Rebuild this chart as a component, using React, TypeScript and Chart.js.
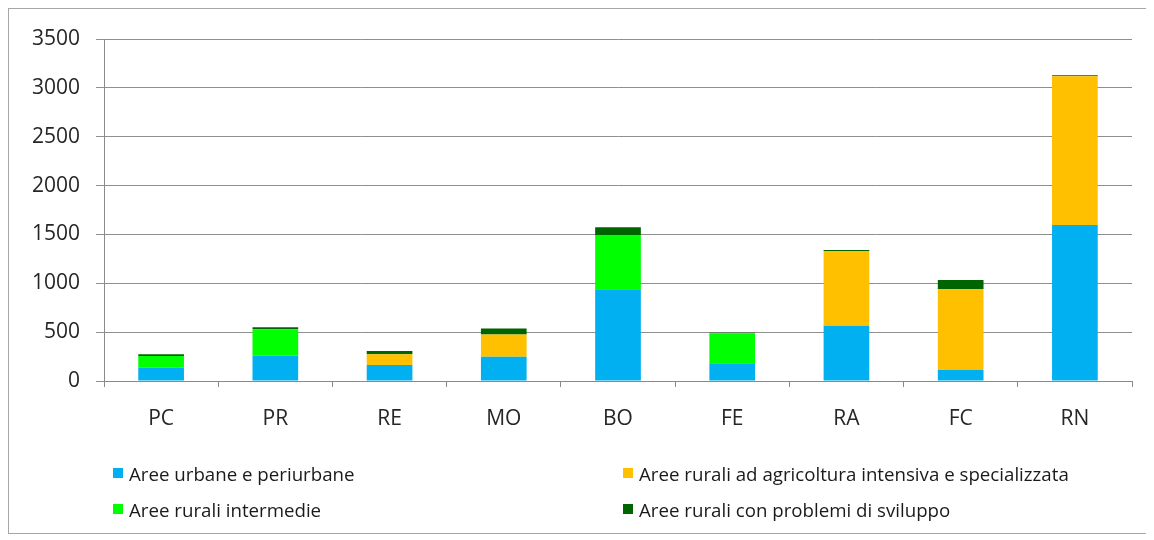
import React, { useEffect, useRef } from "react";
import { Chart, registerables } from "chart.js";

Chart.register(...registerables);

const categories = ["PC", "PR", "RE", "MO", "BO", "FE", "RA", "FC", "RN"];

const urbane = [136, 259, 164, 249, 938, 181, 566, 113, 1596];
const agricoltura = [0, 0, 109, 228, 0, 0, 764, 825, 1524];
const intermedie = [120, 270, 0, 0, 556, 307, 0, 0, 0];
const problemi = [17, 20, 34, 61, 79, 5, 10, 95, 10];

const seriesNames = [
  "Aree urbane e periurbane",
  "Aree rurali ad agricoltura intensiva e specializzata",
  "Aree rurali intermedie",
  "Aree rurali con problemi di sviluppo",
];
const seriesValues = [urbane, agricoltura, intermedie, problemi];
const seriesColors = ["#00B0F0", "#FFC000", "#00FF00", "#006400"];

const yMin = 0;
const yMax = 3500;
const yStep = 500;

const AXIS_FONT = "'Open Sans', 'DejaVu Sans', sans-serif";
const LEGEND_FONT = "'Open Sans', sans-serif";

export default function App() {
  const ref = useRef<HTMLCanvasElement>(null);

  useEffect(() => {
    if (!ref.current) return;
    const chart = new Chart(ref.current, {
      type: "bar",
      data: {
        labels: categories,
        datasets: seriesNames.map((name, i) => ({
          label: name,
          data: seriesValues[i],
          backgroundColor: seriesColors[i],
          borderWidth: 0,
          barPercentage: 0.4,
          categoryPercentage: 1,
        })),
      },
      options: {
        responsive: false,
        animation: false,
        layout: { padding: { top: 30, right: 15, left: 0, bottom: 0 } },
        plugins: {
          legend: { display: false },
          tooltip: { enabled: false },
        },
        scales: {
          x: {
            stacked: true,
            grid: {
              display: true,
              drawOnChartArea: false,
              drawTicks: true,
              tickLength: 6,
              color: "#8a8a8a",
              offset: true,
            },
            border: { display: true, color: "#8a8a8a", width: 1 },
            ticks: {
              color: "#262626",
              padding: 19,
              font: { family: AXIS_FONT, size: 21 },
            },
            afterFit: (scale: any) => {
              scale.height = 152;
            },
          },
          y: {
            stacked: true,
            min: yMin,
            max: yMax,
            ticks: {
              stepSize: yStep,
              color: "#262626",
              padding: 16,
              font: { family: AXIS_FONT, size: 21 },
              callback: (v: any) => String(v),
            },
            grid: {
              color: "#8f8f8f",
              lineWidth: 1,
              drawTicks: true,
              tickLength: 8,
            },
            border: { display: true, color: "#8a8a8a", width: 1 },
            afterFit: (scale: any) => {
              scale.width = 95;
            },
          },
        },
      },
    });
    return () => chart.destroy();
  }, []);

  const legendPos = [
    { left: 104, top: 464 },
    { left: 614, top: 464 },
    { left: 104, top: 500 },
    { left: 614, top: 500 },
  ];

  return (
    <div
      style={{
        position: "relative",
        width: 1138,
        height: 524,
        border: "1px solid #a6a6a6",
        background: "#ffffff",
      }}
    >
      <canvas ref={ref} width={1138} height={524} style={{ display: "block" }} />
      {seriesNames.map((name, i) => (
        <div
          key={name}
          style={{
            position: "absolute",
            left: legendPos[i].left,
            top: legendPos[i].top - 12,
            height: 24,
            display: "flex",
            alignItems: "center",
            whiteSpace: "nowrap",
            fontFamily: LEGEND_FONT,
            fontSize: 18.7,
            color: "#1a1a1a",
          }}
        >
          <span
            style={{
              display: "inline-block",
              width: 10,
              height: 10,
              background: seriesColors[i],
              marginRight: 6,
            }}
          />
          <span>{name}</span>
        </div>
      ))}
    </div>
  );
}
